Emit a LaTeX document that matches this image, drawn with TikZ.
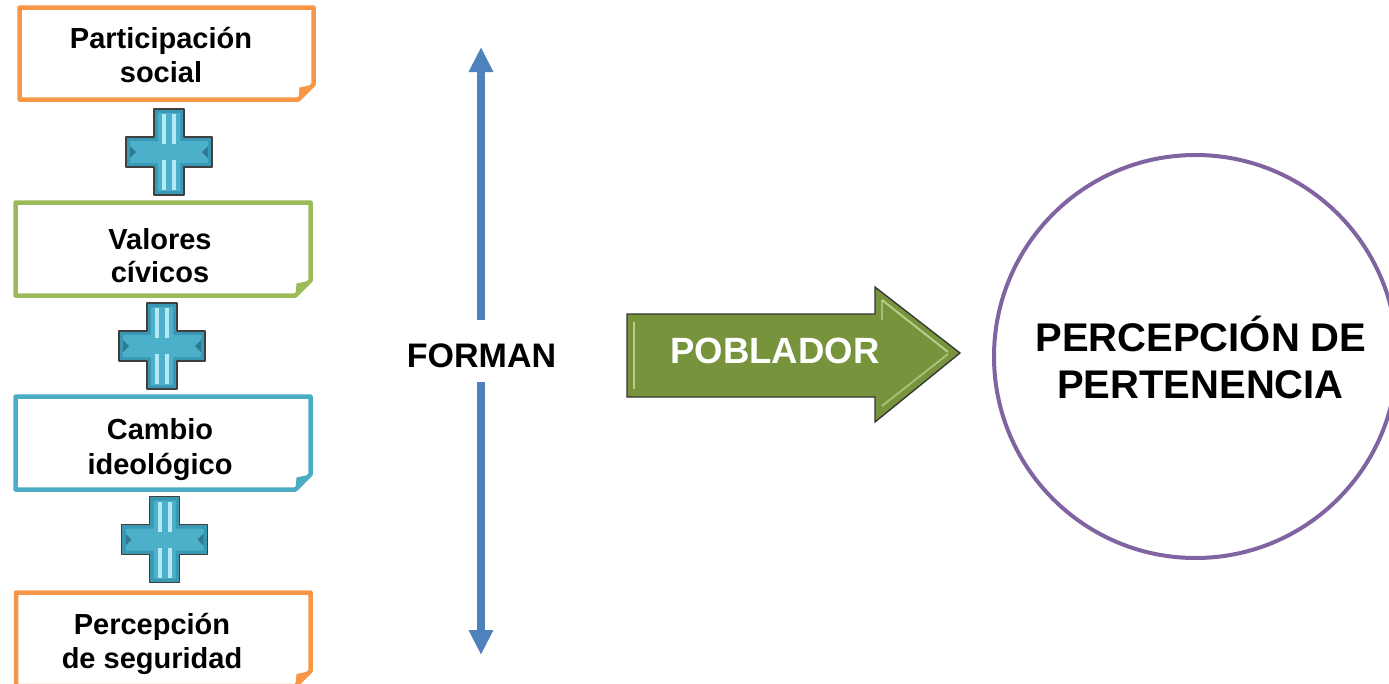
\documentclass[tikz,border=0pt]{standalone}
\usepackage{fontspec}
\setmainfont{Liberation Sans}
\usetikzlibrary{arrows.meta}
\definecolor{orangeB}{HTML}{F79646}
\definecolor{greenB}{HTML}{9BBB59}
\definecolor{blueB}{HTML}{4BACC6}
\definecolor{arrowblue}{HTML}{4F81BD}
\definecolor{oliveA}{HTML}{77933C}
\definecolor{oliveL}{HTML}{C9DCA0}
\definecolor{purpleC}{HTML}{8064A2}
\definecolor{plusfill}{HTML}{4DB0CA}
\definecolor{plusdark}{HTML}{3A98B3}
\definecolor{pluslight}{HTML}{B2EAF5}
\definecolor{plusline}{HTML}{3F3F3F}

\newcommand\myfoldbox[5]{%
  \draw[#5, line width=4.5pt, line join=round]
    (#1,#2) -- (#3,#2) -- (#3,#4-15) -- (#3-15,#4) -- (#1,#4) -- cycle;
  \fill[#5] (#3-15,#4) -- (#3,#4-15) -- (#3-14,#4-12) -- cycle;
}
\newcommand\myplus[2]{%
  \begin{scope}[shift={(#1,#2)}]
    \filldraw[fill=plusdark, draw=plusline, line width=1.6pt, line join=round]
      (-15,-43) -- (15,-43) -- (15,-15) -- (43,-15) -- (43,15) -- (15,15) -- (15,43)
      -- (-15,43) -- (-15,15) -- (-43,15) -- (-43,-15) -- (-15,-15) -- cycle;
    \fill[plusfill]
      (-11,-39) -- (11,-39) -- (11,-11) -- (39,-11) -- (39,11) -- (11,11) -- (11,39)
      -- (-11,39) -- (-11,11) -- (-39,11) -- (-39,-11) -- (-11,-11) -- cycle;
    \fill[pluslight] (-7,-38) rectangle (-3,-8);
    \fill[pluslight] (3,-38) rectangle (7,-8);
    \fill[pluslight] (-7,8) rectangle (-3,38);
    \fill[pluslight] (3,8) rectangle (7,38);
    \fill[plusdark!80!black] (-39,-6) -- (-33,0) -- (-39,6) -- cycle;
    \fill[plusdark!80!black] (39,-6) -- (33,0) -- (39,6) -- cycle;
  \end{scope}
}

\tikzset{
  boxtext/.style={anchor=base, inner sep=0pt, font=\fontsize{29}{34}\selectfont\bfseries, text=black},
  bigtext/.style={anchor=base, inner sep=0pt, font=\fontsize{40}{47}\selectfont\bfseries, text=black},
  vline/.style={draw=arrowblue, line width=8pt, -{Triangle[width=23pt,length=25pt]}},
}

\begin{document}
\begin{tikzpicture}[x=1pt,y=-1pt]
\useasboundingbox (0,0) rectangle (1389,683);
\begin{scope}
\clip (0,0) rectangle (1389,683);

% boxes
\myfoldbox{19.5}{7.5}{313.5}{99.5}{orangeB}
\myfoldbox{15.5}{202.5}{310.5}{295.5}{greenB}
\myfoldbox{15.5}{396.5}{310.5}{489.5}{blueB}
\myfoldbox{16}{592.5}{310.5}{686}{orangeB}

\node[boxtext] (t1a) at (161,48) {Participación};
\node[boxtext] (t1b) at (161,82) {social};
\node[boxtext] (t2a) at (160,249) {Valores};
\node[boxtext] (t2b) at (160,282) {cívicos};
\node[boxtext] (t3a) at (160,439) {Cambio};
\node[boxtext] (t3b) at (160,474) {ideológico};
\node[boxtext] (t4a) at (152,634) {Percepción};
\node[boxtext] (t4b) at (152,668) {de seguridad};

% plus signs
\myplus{169}{152}
\myplus{162}{346}
\myplus{164.5}{539.5}

% FORMAN and vertical arrows
\node[anchor=base, inner sep=0pt, font=\fontsize{34}{40}\selectfont\bfseries] (forman) at (481.5,367) {FORMAN};
\coordinate (upS) at (481,320);
\coordinate (upE) at (481,47);
\coordinate (dnS) at (481,382);
\coordinate (dnE) at (481,655);
\draw[vline] (upS) -- (upE);
\draw[vline] (dnS) -- (dnE);

% POBLADOR arrow
\filldraw[fill=oliveA, draw=black!80, line width=1.3pt, line join=miter]
  (627,314) -- (875,314) -- (875,287) -- (960,353) -- (875,422) -- (875,397) -- (627,397) -- cycle;
\draw[oliveL, line width=2pt, opacity=0.8, line join=miter]
  (634,322) -- (634,389);
\draw[oliveL, line width=2pt, opacity=0.8]
  (882,300) -- (948,352);
\draw[oliveL, line width=2pt, opacity=0.6]
  (882,406) -- (948,354);
\draw[oliveL, line width=1.5pt, opacity=0.6]
  (882,300) -- (882,320);
\node[anchor=base, inner sep=0pt, font=\fontsize{36.5}{42}\selectfont\bfseries, text=white] (pob) at (775,363) {POBLADOR};

% circle
\node[circle, draw=purpleC, line width=4pt, minimum size=403pt, inner sep=0pt] (circ) at (1195.5,356.5) {};
\node[bigtext] (c1) at (1201,351) {PERCEPCIÓN DE};
\node[bigtext] (c2) at (1200.5,398) {PERTENENCIA};
\end{scope}
\end{tikzpicture}
\end{document}
